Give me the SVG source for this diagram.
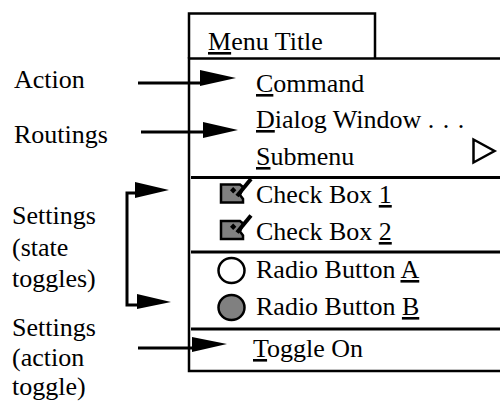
<svg xmlns="http://www.w3.org/2000/svg" width="500" height="403" viewBox="0 0 500 403" font-family="Liberation Serif, serif">
<style>
text{font-family:'Liberation Serif',serif;font-size:26px;fill:#000}
.u{text-decoration:underline}
.ln{stroke:#000;stroke-width:3;fill:none}
.bx{stroke:#000;stroke-width:2.5;fill:none}
.ah{fill:#000;stroke:none}
.gray{fill:#808080;stroke:#000;stroke-width:2.5}
.tick{stroke:#000;stroke-width:4}
</style>
<rect width="500" height="403" fill="#fff"/>
<g id="menu">
<path class="bx" d="M189,58.5 V13.5 H375 V58.5"/>
<path class="bx" d="M500,58.5 H189 V371 H500"/>
<line class="ln" x1="191" y1="177.5" x2="500" y2="177.5"/>
<line class="ln" x1="191" y1="252" x2="500" y2="252"/>
<line class="ln" x1="191" y1="329" x2="500" y2="329"/>
<text x="208" y="50"><tspan class="u">M</tspan>enu Title</text>
</g>
<g id="item-command"><text x="256" y="92"><tspan class="u">C</tspan>ommand</text></g>
<g id="item-dialog"><text x="256" y="128"><tspan class="u">D</tspan>ialog Window <tspan letter-spacing="1">. . .</tspan></text></g>
<g id="item-submenu"><text x="256" y="165"><tspan class="u">S</tspan>ubmenu</text>
<polygon points="473.5,139.5 473.5,162.5 494.5,151" fill="none" stroke="#000" stroke-width="2.5"/></g>
<g id="item-check1">
<path class="gray" d="M221,184.5 H240 L243,187 L240,195 L243,199 V202.5 H221 Z"/>
<rect x="231" y="188" width="4.5" height="4.5" transform="rotate(45 233.2 190.2)" fill="#000"/>
<line class="tick" x1="237" y1="196" x2="251" y2="179"/>
<text x="256" y="203">Check Box <tspan class="u">1</tspan></text></g>
<g id="item-check2">
<path class="gray" d="M221,221 H240 L243,223.5 L240,231.5 L243,235.5 V239 H221 Z"/>
<rect x="231" y="224.5" width="4.5" height="4.5" transform="rotate(45 233.2 226.7)" fill="#000"/>
<line class="tick" x1="237" y1="232.5" x2="251" y2="215.5"/>
<text x="256" y="240">Check Box <tspan class="u">2</tspan></text></g>
<g id="item-radioA"><ellipse cx="231.5" cy="270.5" rx="13" ry="12.5" fill="#fff" stroke="#000" stroke-width="2.5"/>
<text x="256" y="278">Radio Button <tspan class="u">A</tspan></text></g>
<g id="item-radioB"><ellipse cx="231.5" cy="307.5" rx="13" ry="12.5" class="gray"/>
<text x="256" y="315">Radio Button <tspan class="u">B</tspan></text></g>
<g id="item-toggle"><text x="253" y="357"><tspan class="u">T</tspan>oggle On</text></g>
<g id="label-action"><text x="14" y="88">Action</text></g>
<g id="label-routings"><text x="14" y="143">Routings</text></g>
<g id="label-state"><text x="12" y="224">Settings</text><text x="12" y="256">(state</text><text x="12" y="287">toggles)</text></g>
<g id="label-action-toggle"><text x="12" y="336">Settings</text><text x="12" y="366">(action</text><text x="12" y="395">toggle)</text></g>
<g id="connectors">
<line class="ln" x1="138" y1="83" x2="201" y2="83"/>
<polygon class="ah" points="200,70 200,86 236,78"/>
<line class="ln" x1="141" y1="132" x2="203" y2="132"/>
<polygon class="ah" points="203,122 203,138 238,130"/>
<path class="ln" d="M136,193 H127 V305 H138"/>
<polygon class="ah" points="135,182 135,198 169,190"/>
<polygon class="ah" points="137,294 137,309 171,302"/>
<line class="ln" x1="138" y1="348" x2="193" y2="348"/>
<polygon class="ah" points="192,337 192,352 227,344"/>
</g>
</svg>
